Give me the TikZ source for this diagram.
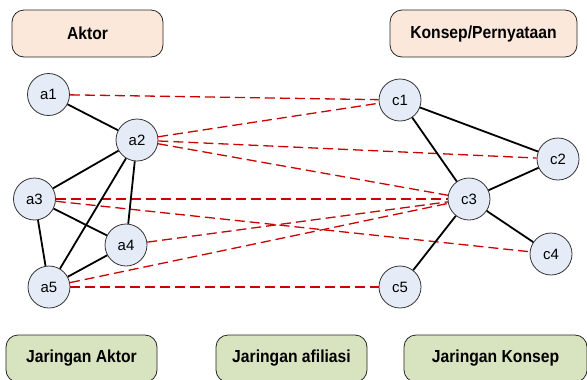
\documentclass[tikz,border=0pt]{standalone}
\usepackage{fontspec}
\setmainfont{Liberation Sans}
\newfontfamily\boxfont[FakeStretch=0.9]{Liberation Sans}
\begin{document}
\begin{tikzpicture}[x=1bp,y=-1bp,
  nd/.style={circle,draw=black!80,line width=0.8bp,fill=ndfill,minimum size=42bp,inner sep=0pt,font=\fontsize{15}{17}\selectfont},
  box/.style={draw=black!85,line width=0.8bp,rounded corners=12bp,font=\boxfont\fontsize{17.5}{20}\selectfont\bfseries,inner sep=0pt},
  topbox/.style={box,fill=peach},
  botbox/.style={box,fill=lgreen},
  tie/.style={line width=1.8bp,black},
  aff/.style={line width=1.3bp,draw=affred,dash pattern=on 10bp off 5bp}]
\definecolor{ndfill}{RGB}{230,236,247}
\definecolor{peach}{RGB}{252,232,218}
\definecolor{lgreen}{RGB}{216,228,191}
\definecolor{affred}{RGB}{204,0,0}
\useasboundingbox (0,0) rectangle (587,379);
% boxes
\node[topbox,minimum width=151bp,minimum height=47bp] (taktor) at (87.5,33.5) {Aktor};
\node[topbox,minimum width=187bp,minimum height=47bp] (tkonsep) at (483.5,33.5) {Konsep/Pernyataan};
\node[botbox,minimum width=151bp,minimum height=47bp] (baktor) at (81.5,358.5) {Jaringan Aktor};
\node[botbox,minimum width=151bp,minimum height=47bp] (bafil) at (291.5,358.5) {Jaringan afiliasi};
\node[botbox,minimum width=183bp,minimum height=47bp] (bkonsep) at (495.5,358.5) {Jaringan Konsep};
% nodes
\node[nd] (a1) at (48.5,94.5) {a1};
\node[nd] (a2) at (137,140) {a2};
\node[nd] (a3) at (34.5,199) {a3};
\node[nd] (a4) at (126,245) {a4};
\node[nd] (a5) at (49,287) {a5};
\node[nd] (c1) at (400,100) {c1};
\node[nd] (c2) at (558,159) {c2};
\node[nd] (c3) at (469,199) {c3};
\node[nd] (c4) at (551,254) {c4};
\node[nd] (c5) at (400,287) {c5};
% affiliation edges
\draw[aff] (a1) -- (c1);
\draw[aff] (a2) -- (c1);
\draw[aff] (a2) -- (c2);
\draw[aff] (a2) -- (c3);
\draw[aff] (a3) -- (c3);
\draw[aff] (a3) -- (c4);
\draw[aff] (a4) -- (c3);
\draw[aff] (a5) -- (c3);
\draw[aff] (a5) -- (c5);
% actor ties
\draw[tie] (a1) -- (a2);
\draw[tie] (a2) -- (a3);
\draw[tie] (a2) -- (a4);
\draw[tie] (a2) -- (a5);
\draw[tie] (a3) -- (a4);
\draw[tie] (a3) -- (a5);
\draw[tie] (a4) -- (a5);
% concept ties
\draw[tie] (c1) -- (c2);
\draw[tie] (c1) -- (c3);
\draw[tie] (c2) -- (c3);
\draw[tie] (c3) -- (c4);
\draw[tie] (c3) -- (c5);
\end{tikzpicture}
\end{document}
